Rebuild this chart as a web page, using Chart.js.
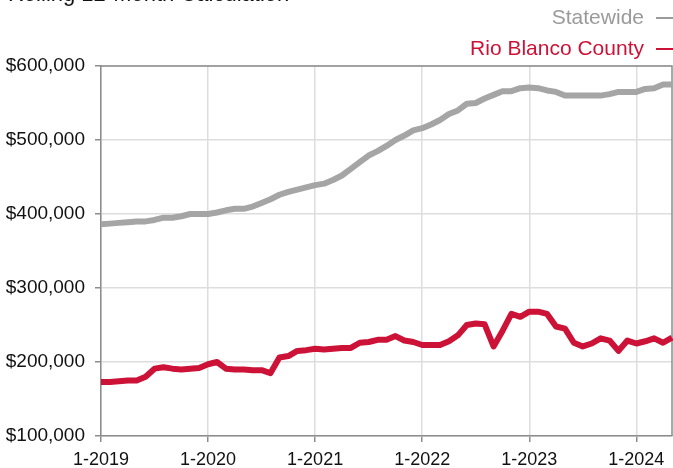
<!DOCTYPE html>
<html>
<head>
<meta charset="utf-8">
<script src="https://cdn.jsdelivr.net/npm/chart.js@4.4.0/dist/chart.umd.min.js"></script>
<style>
html, body { margin: 0; padding: 0; background: #fff; overflow: hidden; }
#wrap { position: relative; width: 673px; height: 468px; font-family: "Liberation Sans", Arial, sans-serif; }
#title { position: absolute; left: 8px; top: -17px; font-size: 22px; line-height: 22px; color: #111; white-space: nowrap; }
.leg { position: absolute; right: 0; font-size: 21px; line-height: 24px; white-space: nowrap; }
.leg span { display: inline-block; width: 17px; height: 2px; margin-left: 12px; vertical-align: middle; }
canvas { position: absolute; left: 0; top: 0; }
</style>
</head>
<body>
<div id="wrap">
  <canvas id="chart" width="673" height="468"></canvas>
  <div id="title">Rolling 12-Month Calculation</div>
  <div class="leg" style="top:5px;color:#9a9a9a">Statewide<span style="background:#9a9a9a"></span></div>
  <div class="leg" style="top:36px;color:#cc1236">Rio Blanco County<span style="background:#cc1236"></span></div>
</div>
<script>
// months 1-2019 .. 5-2024
const startYear = 2019;
const monthCount = 65;
const months = [];
for (let i = 0; i < monthCount; i++) {
  months.push((i % 12 + 1) + '-' + (startYear + Math.floor(i / 12)));
}

const statewide = [
  386000, 387000, 388000, 389000, 390000, 390000, 392000, 395000, 395000, 397000, 400000, 400000,
  400000, 402000, 405000, 407000, 407000, 410000, 415000, 420000, 426000, 430000, 433000, 436000,
  439000, 441000, 446000, 452000, 461000, 470000, 479000, 485000, 492000, 500000, 506000, 513000,
  516000, 521000, 527000, 535000, 540000, 549000, 550000, 556000, 561000, 566000, 566000, 570000,
  571000, 570000, 567000, 565000, 560000, 560000, 560000, 560000, 560000, 562000, 565000, 565000,
  565000, 569000, 570000, 575000, 575000
];

const rioBlanco = [
  173000, 173000, 174000, 175000, 175000, 180000, 191000, 193000, 191000, 190000, 191000, 192000,
  197000, 200000, 191000, 190000, 190000, 189000, 189000, 185000, 206000, 208000, 215000, 216000,
  218000, 217000, 218000, 219000, 219000, 226000, 227000, 230000, 230000, 235000, 229000, 227000,
  223000, 223000, 223000, 228000, 236000, 250000, 252000, 251000, 221000, 242000, 265000, 261000,
  268000, 268000, 265000, 248000, 245000, 226000, 221000, 225000, 232000, 229000, 215000, 229000,
  225000, 228000, 232000, 226000, 233000
];

const yMin = 100000;
const yMax = 600000;
const yStep = 100000;

const grayLine = '#a5a5a5';
const redLine = '#cc1236';

// top and right edges of the plot frame
const frame = {
  id: 'frame',
  beforeDatasetsDraw(chart) {
    const { ctx, chartArea: a } = chart;
    ctx.save();
    ctx.strokeStyle = '#8c8c8c';
    ctx.lineWidth = 1.5;
    ctx.beginPath();
    ctx.moveTo(a.left, a.top);
    ctx.lineTo(a.right, a.top);
    ctx.lineTo(a.right, a.bottom);
    ctx.stroke();
    ctx.restore();
  }
};

Chart.defaults.font.family = '"Liberation Sans", Arial, sans-serif';
Chart.defaults.color = '#111';

const chart = new Chart(document.getElementById('chart').getContext('2d'), {
  type: 'line',
  data: {
    labels: months,
    datasets: [
      {
        label: 'Statewide',
        data: statewide,
        borderColor: grayLine,
        borderWidth: 6,
        pointRadius: 0,
        tension: 0,
        borderJoinStyle: 'round'
      },
      {
        label: 'Rio Blanco County',
        data: rioBlanco,
        borderColor: redLine,
        borderWidth: 6,
        pointRadius: 0,
        tension: 0,
        borderJoinStyle: 'round'
      }
    ]
  },
  options: {
    responsive: false,
    animation: false,
    layout: { padding: { top: 66, right: 1, left: 0, bottom: 0 } },
    plugins: { legend: { display: false }, tooltip: { enabled: false } },
    scales: {
      x: {
        offset: false,
        afterFit: (s) => { s.height = 32; s.paddingRight = 0; s.paddingLeft = 0; },
        grid: {
          color: (c) => (c.index % 12 === 0 ? '#dddddd' : 'rgba(0,0,0,0)'),
          tickColor: (c) => (c.index % 12 === 0 ? '#8c8c8c' : 'rgba(0,0,0,0)'),
          lineWidth: 1.5,
          tickLength: 6
        },
        border: { color: '#8c8c8c', width: 1.5 },
        ticks: {
          autoSkip: false,
          maxRotation: 0,
          padding: 7,
          font: { size: 18 },
          callback: function (v, i) { return i % 12 === 0 ? this.getLabelForValue(v) : ''; }
        }
      },
      y: {
        min: yMin,
        max: yMax,
        afterFit: (s) => { s.width = 101; },
        grid: { color: '#dddddd', lineWidth: 1.5, tickLength: 6, tickColor: '#8c8c8c' },
        border: { color: '#8c8c8c', width: 1.5 },
        ticks: {
          stepSize: yStep,
          padding: 10,
          font: { size: 19 },
          callback: (v) => '$' + v.toLocaleString('en-US')
        }
      }
    }
  },
  plugins: [frame]
});
</script>
</body>
</html>
